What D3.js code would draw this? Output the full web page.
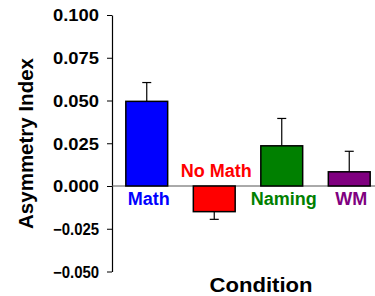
<!DOCTYPE html>
<html>
<head>
<meta charset="utf-8">
<script src="https://cdn.jsdelivr.net/npm/d3@7"></script>
<style>
  body { margin: 0; background: #fff; }
  text { font-family: Arial, "Liberation Sans", sans-serif; font-weight: bold; }
</style>
</head>
<body>
<svg width="375" height="296"></svg>
<script>
// data
var conditions = ["Math", "No Math", "Naming", "WM"];
var means = [0.0495, -0.015, 0.0235, 0.0083];
var errors = [0.011, 0.0045, 0.016, 0.012];
var colors = ["#0000ff", "#ff0000", "#008000", "#800080"];
var yTicks = [0.100, 0.075, 0.050, 0.025, 0.000, -0.025, -0.050];

var svg = d3.select("svg"),
  width = +svg.attr("width"),
  height = +svg.attr("height");

var y = d3.scaleLinear()
  .domain([-0.05, 0.1])
  .range([271.5, 15]);

var x = d3.scaleBand()
  .domain(conditions)
  .range([113, 383])
  .paddingInner(0.38)
  .paddingOuter(0.19);

// y axis
var yAxis = svg.append("g")
  .attr("transform", "translate(112,0)")
  .call(d3.axisLeft(y).tickValues(yTicks).tickFormat(d3.format(".3f")).tickSize(5).tickSizeOuter(0).tickPadding(8));
yAxis.select(".domain").attr("stroke", "#000").attr("stroke-width", 1.2);
yAxis.selectAll(".tick line").attr("stroke", "#000");
yAxis.selectAll(".tick text")
  .attr("fill", "#000")
  .style("font-size", "16px")
  .attr("textLength", 46)
  .attr("lengthAdjust", "spacingAndGlyphs")
  .attr("dy", "0.36em");

// zero line
svg.append("line")
  .attr("x1", 112).attr("x2", width)
  .attr("y1", y(0)).attr("y2", y(0))
  .attr("stroke", "#555").attr("stroke-width", 1);

// error bars (one-sided, away from zero)
var eb = svg.append("g").selectAll("g")
  .data(conditions)
  .enter().append("g");
eb.append("line")
  .attr("x1", function(d){ return x(d) + x.bandwidth()/2 })
  .attr("x2", function(d){ return x(d) + x.bandwidth()/2 })
  .attr("y1", function(d, i){ return y(means[i]) })
  .attr("y2", function(d, i){ return y(means[i] + Math.sign(means[i]) * errors[i]) })
  .attr("stroke", "#000").attr("stroke-width", 1.2);
eb.append("line")
  .attr("x1", function(d){ return x(d) + x.bandwidth()/2 - 4.5 })
  .attr("x2", function(d){ return x(d) + x.bandwidth()/2 + 4.5 })
  .attr("y1", function(d, i){ return y(means[i] + Math.sign(means[i]) * errors[i]) })
  .attr("y2", function(d, i){ return y(means[i] + Math.sign(means[i]) * errors[i]) })
  .attr("stroke", "#000").attr("stroke-width", 1.2);

// bars
svg.append("g").selectAll("rect")
  .data(conditions)
  .enter().append("rect")
    .attr("x", function(d){ return x(d) })
    .attr("width", x.bandwidth())
    .attr("y", function(d, i){ return y(Math.max(0, means[i])) })
    .attr("height", function(d, i){ return Math.abs(y(means[i]) - y(0)) })
    .attr("fill", function(d, i){ return colors[i] })
    .attr("stroke", "#000")
    .attr("stroke-width", 1.5);

// condition labels
svg.append("g").selectAll("text")
  .data(conditions)
  .enter().append("text")
    .attr("x", function(d){ return x(d) + x.bandwidth()/2 + 2 })
    .attr("y", function(d, i){ return means[i] < 0 ? y(0) - 9 : y(0) + 19 })
    .attr("text-anchor", "middle")
    .attr("fill", function(d, i){ return colors[i] })
    .style("font-size", "18px")
    .text(function(d){ return d });

// axis titles
svg.append("text")
  .attr("transform", "translate(33,143.5) rotate(-90)")
  .attr("text-anchor", "middle")
  .style("font-size", "20.5px")
  .text("Asymmetry Index");

svg.append("text")
  .attr("x", 261).attr("y", 292)
  .attr("text-anchor", "middle")
  .style("font-size", "20px")
  .attr("textLength", 103)
  .attr("lengthAdjust", "spacingAndGlyphs")
  .text("Condition");
</script>
</body>
</html>
